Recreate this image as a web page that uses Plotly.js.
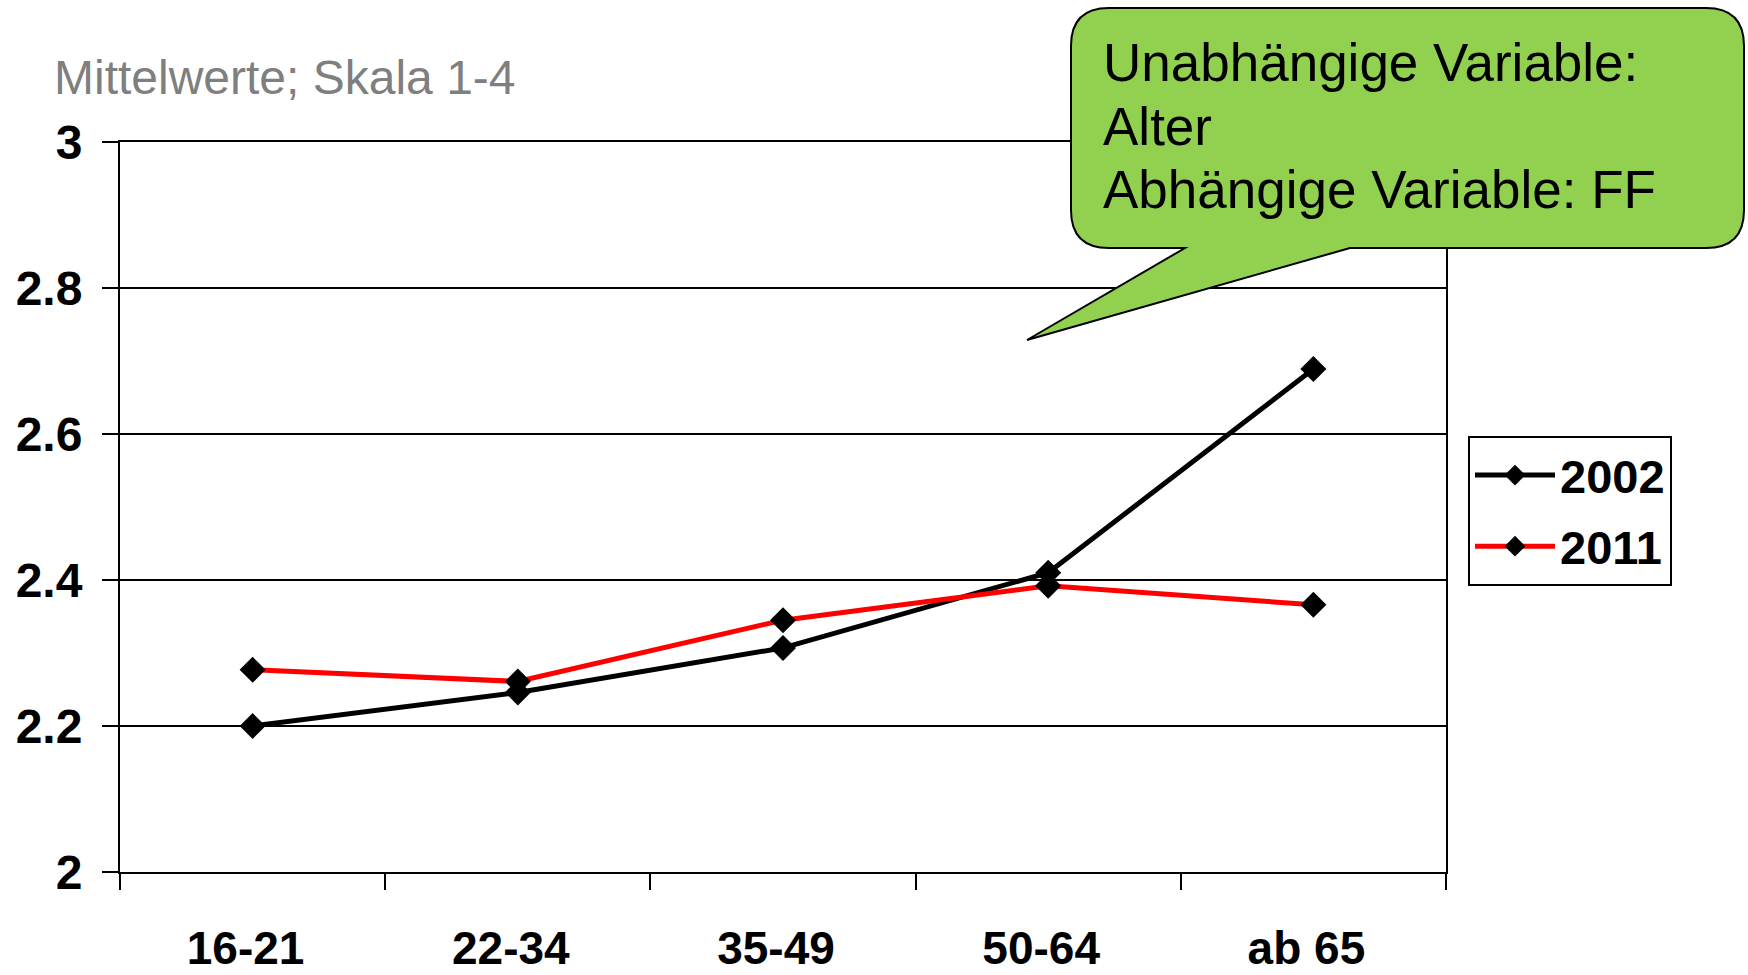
<!DOCTYPE html>
<html>
<head>
<meta charset="utf-8">
<script src="https://cdn.plot.ly/plotly-3.0.1.min.js"></script>
<style>
  html, body { margin: 0; padding: 0; background: #ffffff; }
  #chart { width: 1748px; height: 975px; }
</style>
</head>
<body>
<div id="chart"></div>
<script>
// ---- Data ----
const categories = ['16-21', '22-34', '35-49', '50-64', 'ab 65'];
const values2002 = [2.20, 2.246, 2.307, 2.41, 2.689];
const values2011 = [2.277, 2.261, 2.345, 2.392, 2.366];
const seriesNames = ['2002', '2011'];
const subtitle = 'Mittelwerte; Skala 1-4';
const calloutLines = ['Unabhängige Variable:', 'Alter', 'Abhängige Variable: FF'];
const yTickVals = [2, 2.2, 2.4, 2.6, 2.8, 3];

// ---- Layout geometry (pixels) ----
const W = 1748, H = 975;
const M = { l: 120, r: 302, t: 142, b: 103 };
const PW = W - M.l - M.r, PH = H - M.t - M.b;
const px = x => (x - M.l) / PW;          // pixel x -> paper x
const py = y => (H - M.b - y) / PH;      // pixel y -> paper y

// speech bubble path (pixels -> paper)
function bubblePath() {
  const L = 1071, R = 1744, T = 8, B = 248, r = 38;
  const tailL = 1185, tailR = 1350, tipX = 1027, tipY = 340;
  const P = (x, y) => px(x).toFixed(5) + ',' + py(y).toFixed(5);
  return 'M' + P(L + r, T) +
    ' L' + P(R - r, T) +
    ' Q' + P(R, T) + ' ' + P(R, T + r) +
    ' L' + P(R, B - r) +
    ' Q' + P(R, B) + ' ' + P(R - r, B) +
    ' L' + P(tailR, B) +
    ' L' + P(tipX, tipY) +
    ' L' + P(tailL, B) +
    ' L' + P(L + r, B) +
    ' Q' + P(L, B) + ' ' + P(L, B - r) +
    ' L' + P(L, T + r) +
    ' Q' + P(L, T) + ' ' + P(L + r, T) + ' Z';
}

const FONT = 'Liberation Sans, Arial, sans-serif';

const traces = [
  {
    x: categories, y: values2002, name: seriesNames[0], type: 'scatter', mode: 'lines+markers',
    legendgroup: 'a',
    line: { color: '#000000', width: 5 },
    marker: { symbol: 'diamond', size: 20, color: '#000000' }
  },
  {
    x: categories, y: values2011, name: seriesNames[1], type: 'scatter', mode: 'lines+markers',
    legendgroup: 'b',
    line: { color: '#ff0000', width: 5 },
    marker: { symbol: 'diamond', size: 20, color: '#000000' }
  }
];

const calloutY = [62, 126, 190];
const annotations = [
  {
    xref: 'paper', yref: 'paper', x: px(52), y: py(77), xanchor: 'left', yanchor: 'middle',
    text: subtitle, showarrow: false,
    font: { family: FONT, size: 48, color: '#7f7f7f' }
  }
].concat(calloutLines.map((t, i) => ({
  xref: 'paper', yref: 'paper', x: px(1101), y: py(calloutY[i]), xanchor: 'left', yanchor: 'middle',
  text: t, showarrow: false,
  font: { family: FONT, size: 53, color: '#000000' }
})));

const layout = {
  width: W, height: H,
  margin: M,
  paper_bgcolor: '#ffffff', plot_bgcolor: '#ffffff',
  font: { family: FONT, color: '#000000' },
  showlegend: true,
  legend: {
    x: px(1468), y: py(436), xanchor: 'left', yanchor: 'top',
    bordercolor: '#000000', borderwidth: 2, bgcolor: '#ffffff',
    font: { family: FONT, size: 47, weight: 'bold', color: '#000000' },
    itemwidth: 80, traceorder: 'grouped', tracegroupgap: 7
  },
  xaxis: {
    type: 'category', range: [-0.5, 4.5],
    showline: true, linecolor: '#000000', linewidth: 2, mirror: true,
    ticks: 'outside', tickson: 'boundaries', ticklen: 16, tickwidth: 2, tickcolor: '#000000',
    showgrid: false, zeroline: false,
    tickfont: { family: FONT, size: 46, weight: 'bold', color: '#000000' },
    ticklabelstandoff: 35, ticklabelshift: -7
  },
  yaxis: {
    range: [2, 3], tickvals: yTickVals,
    showline: true, linecolor: '#000000', linewidth: 2, mirror: true,
    ticks: 'outside', ticklen: 16, tickwidth: 2, tickcolor: '#000000',
    showgrid: true, gridcolor: '#000000', gridwidth: 2, zeroline: false,
    tickfont: { family: FONT, size: 48, weight: 'bold', color: '#000000' },
    ticklabelstandoff: 10
  },
  shapes: [
    {
      type: 'path', xref: 'paper', yref: 'paper', layer: 'above',
      path: bubblePath(),
      fillcolor: '#92d050', line: { color: '#000000', width: 2 }
    }
  ],
  annotations: annotations
};

Plotly.newPlot('chart', traces, layout, { displayModeBar: false, staticPlot: true });
</script>
</body>
</html>
